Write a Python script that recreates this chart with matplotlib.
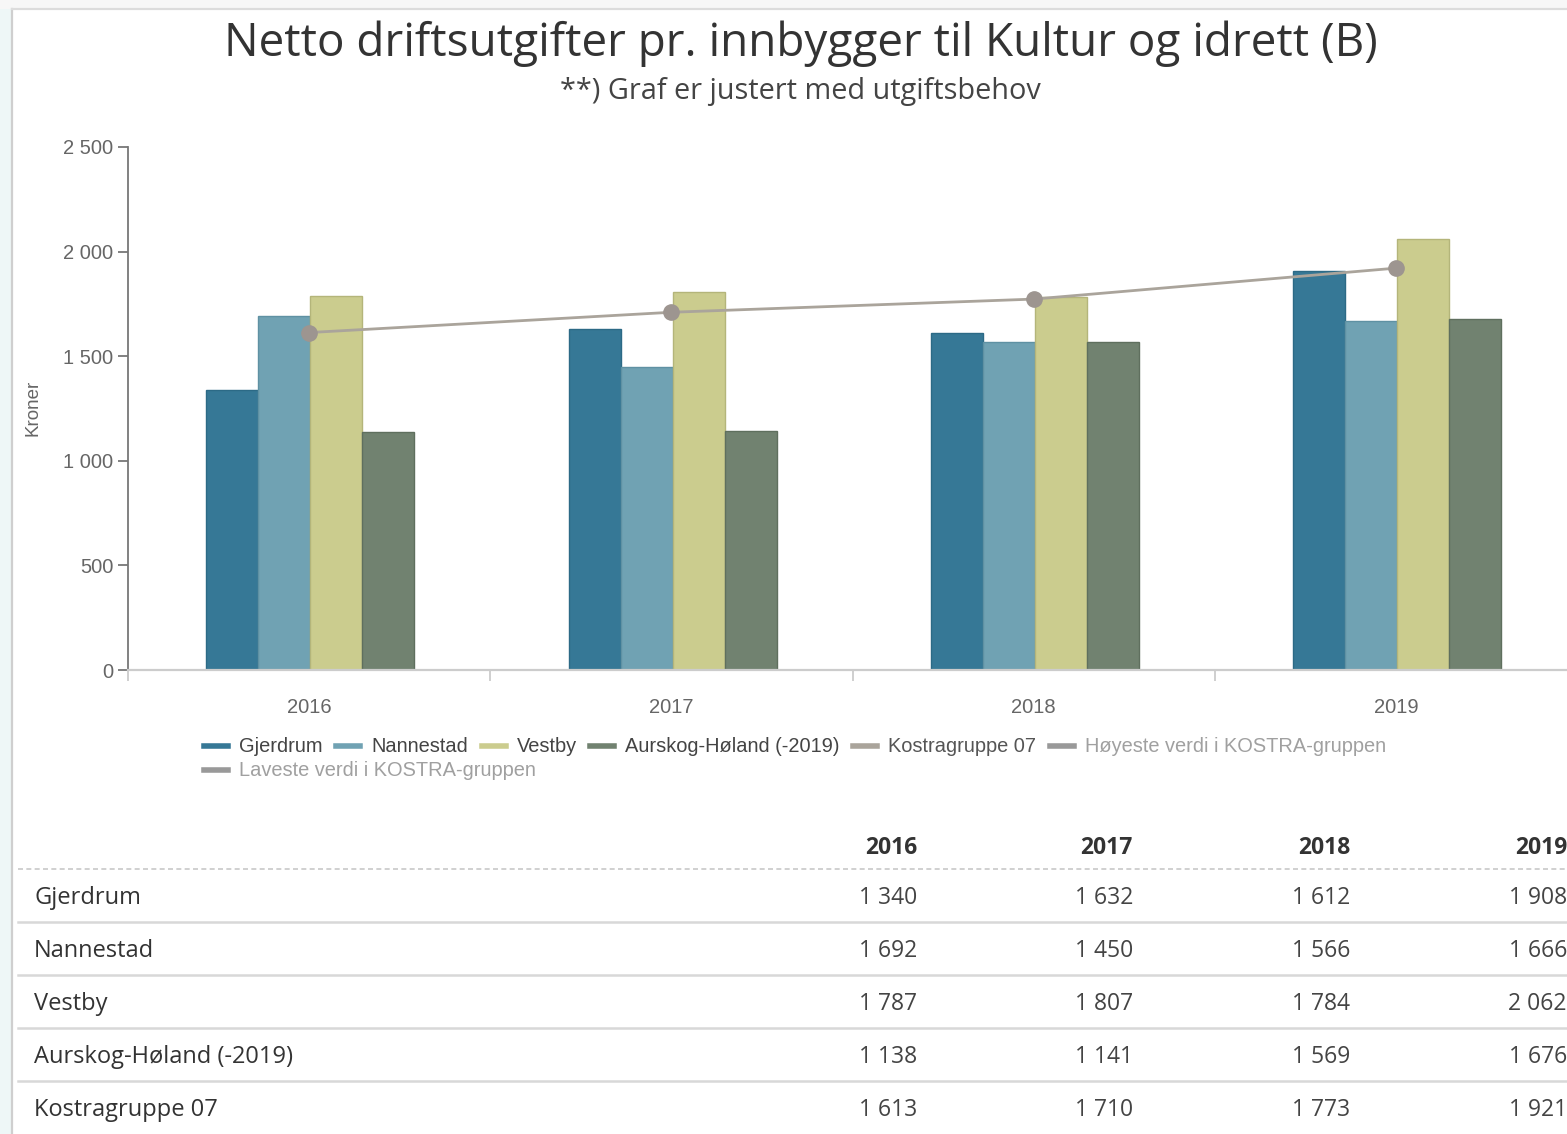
import matplotlib
matplotlib.use("Agg")
import matplotlib.pyplot as plt
import numpy as np
from matplotlib.lines import Line2D
from matplotlib.ticker import FuncFormatter, FixedLocator
from matplotlib.patches import Rectangle

# ---------------- data ----------------
years = ["2016", "2017", "2018", "2019"]
gjerdrum = [1340, 1632, 1612, 1908]
nannestad = [1692, 1450, 1566, 1666]
vestby = [1787, 1807, 1784, 2062]
aurskog = [1138, 1141, 1569, 1676]
kostra07 = [1613, 1710, 1773, 1921]

bar_series = ["Gjerdrum", "Nannestad", "Vestby", "Aurskog-Høland (-2019)"]
bar_values = [gjerdrum, nannestad, vestby, aurskog]
bar_colors = ["#367896", "#70a2b3", "#cbcc8e", "#718270"]
bar_edges = ["#2c6a86", "#5f91a3", "#b4b57a", "#5f6f5e"]
line_name = "Kostragruppe 07"
hidden_names = ["Høyeste verdi i KOSTRA-gruppen", "Laveste verdi i KOSTRA-gruppen"]

table_rows = ["Gjerdrum", "Nannestad", "Vestby", "Aurskog-Høland (-2019)", "Kostragruppe 07"]
table_values = [gjerdrum, nannestad, vestby, aurskog, kostra07]

title = "Netto driftsutgifter pr. innbygger til Kultur og idrett (B)"
subtitle = "**) Graf er justert med utgiftsbehov"
ylabel = "Kroner"

W, H = 1567, 1134
fig = plt.figure(figsize=(W / 100, H / 100), dpi=100)
fig.patch.set_facecolor("white")

def fx(px):
    return px / W

def fy(py):
    return 1 - py / H

# page background pieces (left strip and frame)
fig.add_artist(Rectangle((0, 0), fx(12), 1, transform=fig.transFigure,
                         facecolor="#eef7f7", edgecolor="none", zorder=0))
fig.add_artist(Rectangle((0, fy(9)), 1, 1 - fy(9), transform=fig.transFigure,
                         facecolor="#f7f7f7", edgecolor="none", zorder=0))
fig.add_artist(Line2D([fx(12), fx(12)], [0, fy(9)], transform=fig.transFigure,
                      color="#cfcfcf", lw=1.6, zorder=1))
fig.add_artist(Line2D([fx(12), 1], [fy(9), fy(9)], transform=fig.transFigure,
                      color="#dcdcdc", lw=1.6, zorder=1))

# ---------------- chart ----------------
ax_left, ax_right = 127.8, 1577.2
ax_top, ax_bot = 147, 670
ax = fig.add_axes([fx(ax_left), fy(ax_bot), fx(ax_right - ax_left), (ax_bot - ax_top) / H])
ax.set_facecolor("none")

x = np.arange(len(years))
w = 0.1435
n = len(bar_series)
for i, (name, vals, c, ec) in enumerate(zip(bar_series, bar_values, bar_colors, bar_edges)):
    off = (i - (n - 1) / 2) * w + 0.004
    ax.bar(x + off, vals, width=w, color=c, edgecolor=ec, linewidth=1.0, zorder=2)

ax.plot(x, kostra07, color="#aaa49b", lw=2.0, marker="o", markersize=11,
        markerfacecolor="#9d9590", markeredgecolor="#9d9590", zorder=4)

ax.set_xlim(-0.5, len(years) - 0.5)
ax.set_ylim(0, 2500)

ax.spines["top"].set_visible(False)
ax.spines["right"].set_visible(False)
ax.spines["left"].set_color("#777777")
ax.spines["left"].set_linewidth(1.3)
ax.spines["bottom"].set_color("#cccccc")
ax.spines["bottom"].set_linewidth(1.6)

tick_font = "Liberation Sans"
ax.yaxis.set_major_locator(FixedLocator([0, 500, 1000, 1500, 2000, 2500]))
ax.yaxis.set_major_formatter(FuncFormatter(lambda v, p: f"{int(v):,}".replace(",", " ")))
ax.tick_params(axis="y", direction="out", length=7, width=1.3, color="#777777",
               labelcolor="#666666", labelsize=14.5, pad=3.5)
for lab in ax.get_yticklabels():
    lab.set_fontfamily(tick_font)

ax.set_xticks(np.arange(-0.5, len(years), 1.0))
ax.set_xticklabels([])
ax.tick_params(axis="x", which="major", direction="out", length=8, width=1.3, color="#cccccc")
ax.set_xticks(x, minor=True)
ax.set_xticklabels(years, minor=True)
ax.tick_params(axis="x", which="minor", length=0, labelcolor="#666666", labelsize=14.5, pad=20)
for lab in ax.get_xticklabels(minor=True):
    lab.set_fontfamily(tick_font)

fig.text(fx(33), fy(408), ylabel, rotation=90, ha="center", va="center",
         color="#666666", fontsize=13.5, family=tick_font)

# titles
fig.text(fx(801), fy(44), title, ha="center", va="center", fontsize=33,
         color="#333333", family="Open Sans")
fig.text(fx(800), fy(92), subtitle, ha="center", va="center", fontsize=20.8,
         color="#444444", family="Open Sans")

# ---------------- legend ----------------
handles1 = [Line2D([], [], color=c, lw=4) for c in bar_colors]
handles1.append(Line2D([], [], color="#aaa49b", lw=4))
handles1.append(Line2D([], [], color="#999999", lw=4))
labels1 = bar_series + [line_name, hidden_names[0]]
leg1 = fig.legend(handles1, labels1, loc="center left", bbox_to_anchor=(fx(204), fy(747)),
                  ncol=len(handles1), frameon=False, borderpad=0, borderaxespad=0,
                  handlelength=1.2, handletextpad=0.55, columnspacing=0.68,
                  prop={"family": tick_font, "size": 14.4})
text_colors1 = ["#444444"] * 4 + ["#555555", "#a0a0a0"]
for t, c in zip(leg1.get_texts(), text_colors1):
    t.set_color(c)

leg2 = fig.legend([Line2D([], [], color="#999999", lw=4)], [hidden_names[1]],
                  loc="center left", bbox_to_anchor=(fx(204), fy(771)),
                  frameon=False, borderpad=0, borderaxespad=0,
                  handlelength=1.2, handletextpad=0.55,
                  prop={"family": tick_font, "size": 14.4})
for t in leg2.get_texts():
    t.set_color("#a0a0a0")

# ---------------- table ----------------
col_right = [917, 1133, 1350, 1567]
tbl_font = "Open Sans"
header_y = 848
for yr, cx in zip(years, col_right):
    fig.text(fx(cx), fy(header_y), yr, ha="right", va="center", fontsize=16.5,
             fontweight="bold", color="#333333", family=tbl_font)
fig.add_artist(Line2D([fx(18), 1], [fy(869), fy(869)], transform=fig.transFigure,
                      color="#c8c8c8", lw=1.2, ls=(0, (3, 2))))
row_y0, row_h = 898, 53
for r, (name, vals) in enumerate(zip(table_rows, table_values)):
    yy = row_y0 + r * row_h
    fig.text(fx(34), fy(yy), name, ha="left", va="center", fontsize=17,
             color="#333333", family=tbl_font)
    for v, cx in zip(vals, col_right):
        fig.text(fx(cx), fy(yy), f"{v:,}".replace(",", " "), ha="right", va="center",
                 fontsize=16.5, color="#444444", family=tbl_font)
    if r < len(table_rows) - 1:
        ly = yy + 24
        fig.add_artist(Line2D([fx(18), 1], [fy(ly), fy(ly)], transform=fig.transFigure,
                              color="#d8d8d8", lw=1.8))

fig.savefig("out.png", dpi=100, facecolor=fig.get_facecolor())
